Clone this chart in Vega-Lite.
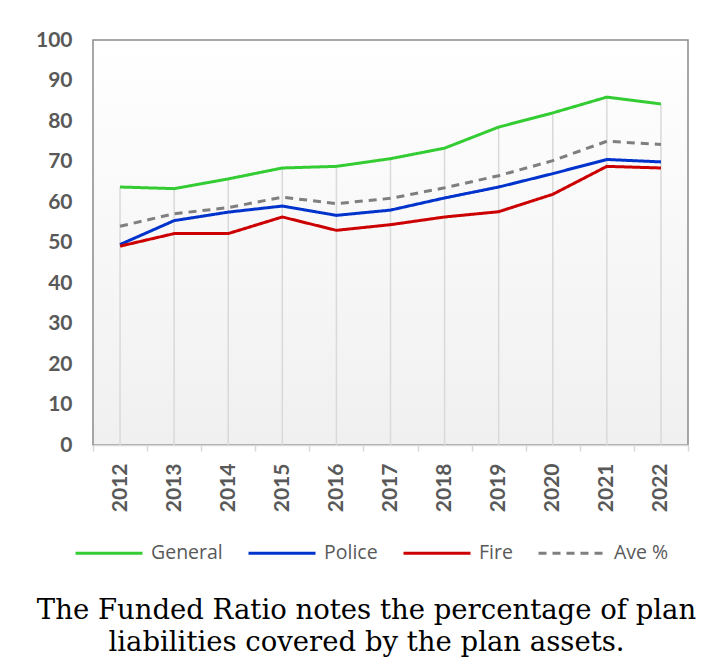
{
  "$schema": "https://vega.github.io/schema/vega-lite/v6.json",
  "width": 595,
  "height": 405,
  "autosize": {"type": "none"},
  "padding": {"left": 93, "top": 40, "right": 29, "bottom": 214},
  "background": "#ffffff",
  "config": {
    "view": {
      "stroke": "#8a8a8a",
      "strokeWidth": 1.5,
      "fill": {"gradient": "linear", "x1": 0, "y1": 0, "x2": 0, "y2": 1,
        "stops": [{"offset": 0, "color": "#ffffff"}, {"offset": 1, "color": "#f0f0f0"}]}
    }
  },
  "title": {
    "text": ["The Funded Ratio notes the percentage of plan", "liabilities covered by the plan assets."],
    "orient": "bottom",
    "anchor": "middle",
    "dx": -24,
    "offset": 34,
    "font": "DejaVu Serif",
    "fontSize": 27.5,
    "fontWeight": "normal",
    "color": "#000000",
    "lineHeight": 32
  },
  "data": {
    "values": [
      {"year": "2012", "series": "General", "value": 63.7},
      {"year": "2013", "series": "General", "value": 63.3},
      {"year": "2014", "series": "General", "value": 65.7},
      {"year": "2015", "series": "General", "value": 68.4},
      {"year": "2016", "series": "General", "value": 68.8},
      {"year": "2017", "series": "General", "value": 70.7},
      {"year": "2018", "series": "General", "value": 73.3},
      {"year": "2019", "series": "General", "value": 78.5},
      {"year": "2020", "series": "General", "value": 82.0},
      {"year": "2021", "series": "General", "value": 85.9},
      {"year": "2022", "series": "General", "value": 84.2},
      {"year": "2012", "series": "Police", "value": 49.5},
      {"year": "2013", "series": "Police", "value": 55.4},
      {"year": "2014", "series": "Police", "value": 57.5},
      {"year": "2015", "series": "Police", "value": 59.0},
      {"year": "2016", "series": "Police", "value": 56.7},
      {"year": "2017", "series": "Police", "value": 58.0},
      {"year": "2018", "series": "Police", "value": 61.0},
      {"year": "2019", "series": "Police", "value": 63.7},
      {"year": "2020", "series": "Police", "value": 67.0},
      {"year": "2021", "series": "Police", "value": 70.5},
      {"year": "2022", "series": "Police", "value": 69.9},
      {"year": "2012", "series": "Fire", "value": 49.1},
      {"year": "2013", "series": "Fire", "value": 52.2},
      {"year": "2014", "series": "Fire", "value": 52.2},
      {"year": "2015", "series": "Fire", "value": 56.3},
      {"year": "2016", "series": "Fire", "value": 53.0},
      {"year": "2017", "series": "Fire", "value": 54.4},
      {"year": "2018", "series": "Fire", "value": 56.3},
      {"year": "2019", "series": "Fire", "value": 57.6},
      {"year": "2020", "series": "Fire", "value": 61.9},
      {"year": "2021", "series": "Fire", "value": 68.8},
      {"year": "2022", "series": "Fire", "value": 68.4},
      {"year": "2012", "series": "Ave %", "value": 54.0},
      {"year": "2013", "series": "Ave %", "value": 57.1},
      {"year": "2014", "series": "Ave %", "value": 58.6},
      {"year": "2015", "series": "Ave %", "value": 61.2},
      {"year": "2016", "series": "Ave %", "value": 59.6},
      {"year": "2017", "series": "Ave %", "value": 60.9},
      {"year": "2018", "series": "Ave %", "value": 63.5},
      {"year": "2019", "series": "Ave %", "value": 66.5},
      {"year": "2020", "series": "Ave %", "value": 70.2},
      {"year": "2021", "series": "Ave %", "value": 75.0},
      {"year": "2022", "series": "Ave %", "value": 74.2}
    ]
  },
  "encoding": {
    "x": {
      "field": "year",
      "type": "ordinal",
      "title": null,
      "scale": {"type": "band", "paddingInner": 0, "paddingOuter": 0},
      "axis": {
        "labelAngle": -90,
        "labelFont": "Lato",
        "labelFontSize": 21,
        "labelFontWeight": "bold",
        "labelColor": "#595959",
        "labelPadding": 12,
        "tickBand": "extent",
        "tickSize": 6,
        "tickColor": "#d9d9d9",
        "tickWidth": 1.5,
        "domainColor": "#d9d9d9",
        "domainWidth": 1.5,
        "grid": false
      }
    }
  },
  "layer": [
    {
      "transform": [{"filter": "datum.series === 'General'"}],
      "mark": {"type": "rule", "color": "#d9d9d9", "strokeWidth": 1.5},
      "encoding": {
        "y": {"field": "value", "type": "quantitative"},
        "y2": {"datum": 0}
      }
    },
    {
      "mark": {"type": "line", "strokeWidth": 3},
      "encoding": {
        "y": {
          "field": "value",
          "type": "quantitative",
          "title": null,
          "scale": {"domain": [0, 100], "nice": false},
          "axis": {
            "values": [0, 10, 20, 30, 40, 50, 60, 70, 80, 90, 100],
            "domain": false,
            "ticks": false,
            "grid": false,
            "labelFont": "Lato",
            "labelFontSize": 21,
            "labelFontWeight": "bold",
            "labelColor": "#595959",
            "labelPadding": 21
          }
        },
        "color": {
          "field": "series",
          "type": "nominal",
          "sort": ["General", "Police", "Fire", "Ave %"],
          "scale": {"domain": ["General", "Police", "Fire", "Ave %"], "range": ["#33cc33", "#0033cc", "#cc0000", "#7f7f7f"]},
          "legend": {
            "title": null,
            "orient": "none",
            "legendX": -19,
            "legendY": 478,
            "direction": "horizontal",
            "symbolType": "stroke",
            "symbolSize": 4489,
            "symbolStrokeWidth": 3,
            "labelFont": "Open Sans",
            "labelFontSize": 19.5,
            "labelColor": "#595959",
            "labelOffset": 7,
            "columnPadding": 19
          }
        },
        "strokeDash": {
          "field": "series",
          "type": "nominal",
          "sort": ["General", "Police", "Fire", "Ave %"],
          "scale": {"domain": ["General", "Police", "Fire", "Ave %"], "range": [[1, 0], [1, 0], [1, 0], [8, 6]]},
          "legend": {
            "title": null,
            "orient": "none",
            "legendX": -19,
            "legendY": 478,
            "direction": "horizontal",
            "symbolType": "stroke",
            "symbolSize": 4489,
            "symbolStrokeWidth": 3,
            "labelFont": "Open Sans",
            "labelFontSize": 19.5,
            "labelColor": "#595959",
            "labelOffset": 7,
            "columnPadding": 19
          }
        }
      }
    }
  ]
}
